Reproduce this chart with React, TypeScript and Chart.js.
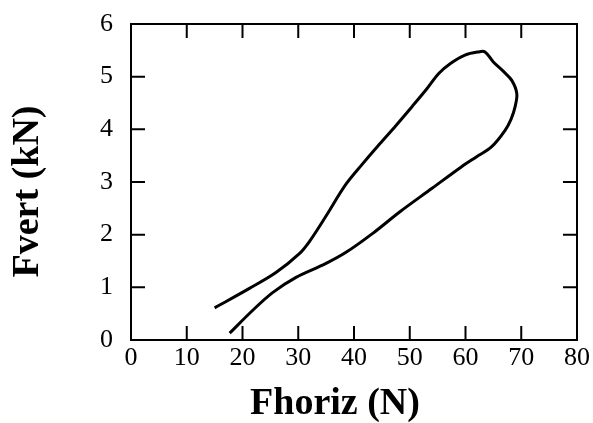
import React, { useEffect, useRef } from "react";
import { Chart, registerables } from "chart.js";

Chart.register(...registerables);

// Force data (loop)
const fhoriz: number[] = [
  15.0, 21.25, 26.0, 30.2, 32.0, 34.9, 38.5, 41.5, 44.5, 47.5, 50.4, 53.0, 55.2, 57.3, 59.9, 62.3,
  63.5, 65.0, 66.8, 68.3, 69.2, 68.9, 68.2, 67.1, 64.7, 62.0, 59.3, 54.0, 48.3, 43.3, 38.5, 34.9,
  29.6, 25.4, 21.8, 17.7,
];
const fvert: number[] = [
  0.61, 0.98, 1.28, 1.64, 1.87, 2.34, 2.95, 3.34, 3.71, 4.07, 4.43, 4.76, 5.06, 5.25, 5.41, 5.47,
  5.47, 5.28, 5.1, 4.93, 4.68, 4.43, 4.2, 3.98, 3.67, 3.48, 3.29, 2.88, 2.44, 2.02, 1.66, 1.45,
  1.19, 0.9, 0.56, 0.13,
];
const xTicks: number[] = [0, 10, 20, 30, 40, 50, 60, 70, 80];
const yTicks: number[] = [0, 1, 2, 3, 4, 5, 6];
const xTitle = "Fhoriz (N)    ";
const yTitle = "Fvert (kN)  ";

const FONT = "'Liberation Serif', 'Times New Roman', serif";

const framePlugin = {
  id: "frameTicks",
  afterDatasetsDraw(chart: any) {
    const { ctx, chartArea, scales } = chart;
    const { left, right, top, bottom } = chartArea;
    const L = 14;
    ctx.save();
    ctx.strokeStyle = "#000";
    ctx.lineWidth = 2;
    ctx.lineCap = "butt";
    ctx.strokeRect(left, top, right - left, bottom - top);
    ctx.beginPath();
    xTicks.forEach((v) => {
      if (v === xTicks[0] || v === xTicks[xTicks.length - 1]) return;
      const px = scales.x.getPixelForValue(v);
      ctx.moveTo(px, bottom);
      ctx.lineTo(px, bottom - L);
      ctx.moveTo(px, top);
      ctx.lineTo(px, top + L);
    });
    yTicks.forEach((v) => {
      if (v === yTicks[0] || v === yTicks[yTicks.length - 1]) return;
      const py = scales.y.getPixelForValue(v);
      ctx.moveTo(left, py);
      ctx.lineTo(left + L, py);
      ctx.moveTo(right, py);
      ctx.lineTo(right - L, py);
    });
    ctx.stroke();
    ctx.restore();
  },
};

export default function App() {
  const ref = useRef<HTMLCanvasElement | null>(null);

  useEffect(() => {
    document.body.style.margin = "0";
    if (!ref.current) return;
    const points = fhoriz.map((x, i) => ({ x, y: fvert[i] }));
    const chart = new Chart(ref.current, {
      type: "scatter",
      data: {
        datasets: [
          {
            data: points,
            showLine: true,
            borderColor: "#000",
            borderWidth: 3,
            pointRadius: 0,
            tension: 0.35,
            fill: false,
          },
        ],
      },
      options: {
        animation: false,
        responsive: false,
        maintainAspectRatio: false,
        layout: { padding: { left: 0, right: 12, top: 24, bottom: 0 } },
        plugins: { legend: { display: false }, tooltip: { enabled: false } },
        scales: {
          x: {
            type: "linear",
            min: 0,
            max: 80,
            afterBuildTicks: (s: any) => {
              s.ticks = xTicks.map((v) => ({ value: v }));
            },
            afterFit: (s: any) => {
              s.height = 83;
            },
            grid: { display: false, drawTicks: false },
            border: { display: false },
            ticks: {
              color: "#000",
              font: { family: FONT, size: 26 },
              padding: 3,
              maxRotation: 0,
            },
            title: {
              display: true,
              text: xTitle,
              color: "#000",
              font: { family: FONT, size: 38, weight: "bold", lineHeight: 1 },
              padding: { top: 0, bottom: 0 },
            },
          },
          y: {
            type: "linear",
            min: 0,
            max: 6,
            afterBuildTicks: (s: any) => {
              s.ticks = yTicks.map((v) => ({ value: v }));
            },
            afterFit: (s: any) => {
              s.width = 131;
            },
            grid: { display: false, drawTicks: false },
            border: { display: false },
            ticks: {
              color: "#000",
              font: { family: FONT, size: 26, lineHeight: 0.4 },
              padding: 18,
            },
            title: {
              display: true,
              text: yTitle,
              color: "#000",
              font: { family: FONT, size: 38, weight: "bold", lineHeight: 1 },
              padding: { top: 9, bottom: 0 },
            },
          },
        },
      },
      plugins: [framePlugin],
    });
    return () => chart.destroy();
  }, []);

  return (
    <div style={{ position: "fixed", left: 0, top: 0, width: 593, height: 423, background: "#fff" }}>
      <canvas ref={ref} width={593} height={423} style={{ display: "block", width: 593, height: 423 }} />
    </div>
  );
}
